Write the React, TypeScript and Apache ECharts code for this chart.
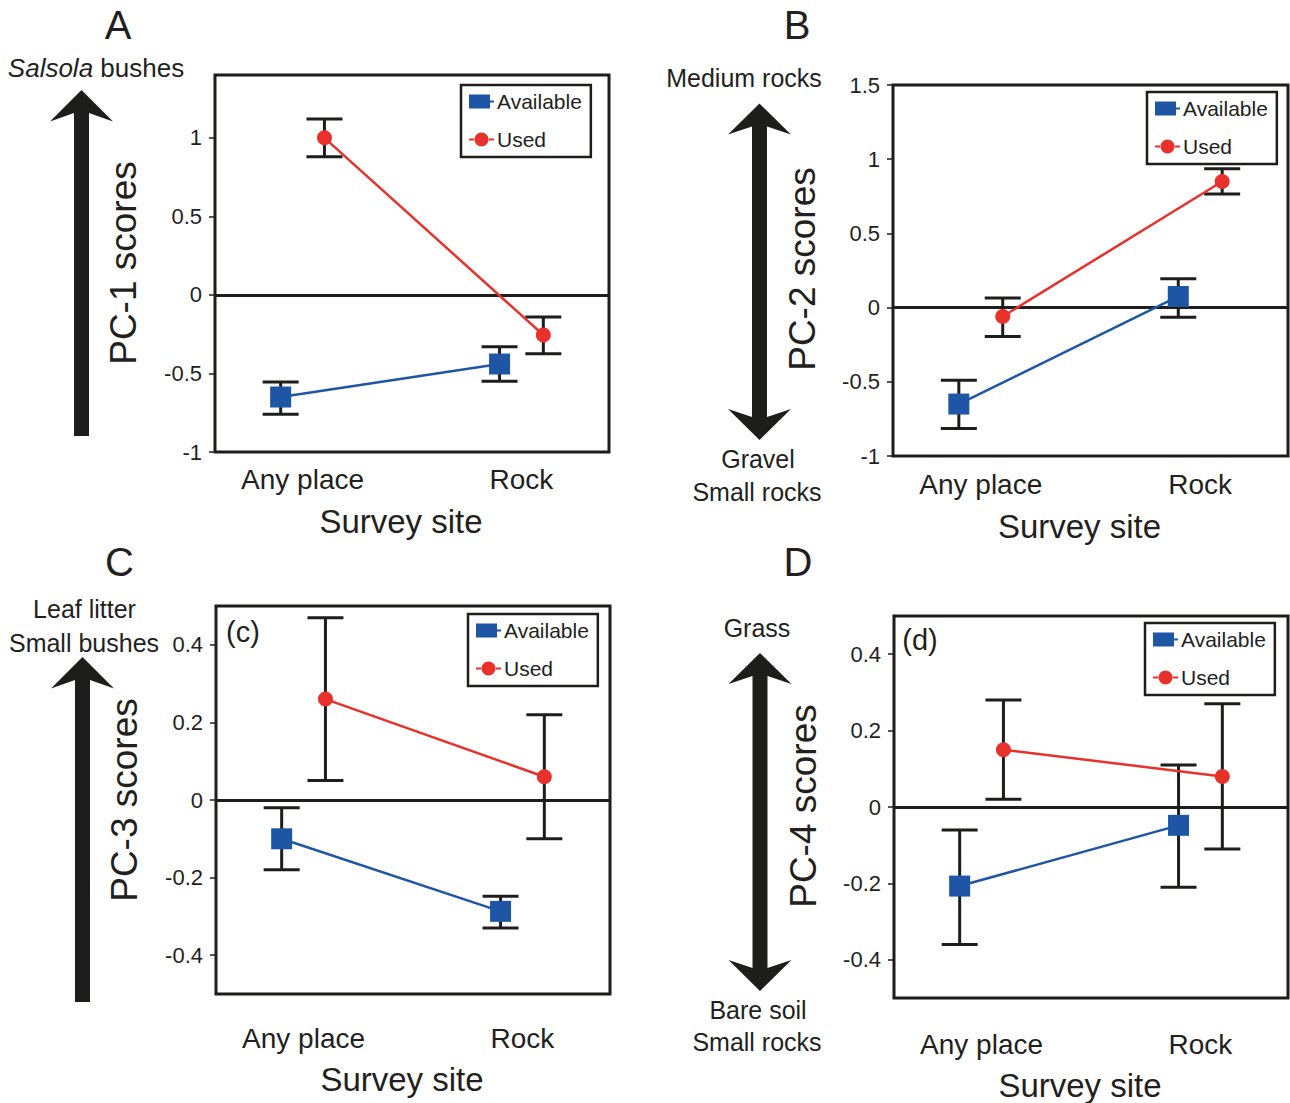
import React, { useEffect, useRef } from 'react';
import * as echarts from 'echarts';

const FONT = '"Liberation Sans", Arial, Helvetica, sans-serif';
const INK = '#1d1d1b';
const TEXT = '#231f20';
const BLUE = '#1f55a5';
const RED = '#e8312b';

const categories = ['Any place', 'Rock'];
const seriesNames = ['Available', 'Used'];

// Panel A – PC-1 scores
const pc1Available = [-0.65, -0.44];
const pc1AvailableLow = [-0.76, -0.55];
const pc1AvailableHigh = [-0.555, -0.33];
const pc1Used = [1.0, -0.255];
const pc1UsedLow = [0.88, -0.375];
const pc1UsedHigh = [1.12, -0.14];
const pc1Ticks = [-1, -0.5, 0, 0.5, 1];

// Panel B – PC-2 scores
const pc2Available = [-0.65, 0.075];
const pc2AvailableLow = [-0.815, -0.065];
const pc2AvailableHigh = [-0.49, 0.195];
const pc2Used = [-0.06, 0.85];
const pc2UsedLow = [-0.195, 0.765];
const pc2UsedHigh = [0.065, 0.935];
const pc2Ticks = [-1, -0.5, 0, 0.5, 1, 1.5];

// Panel C – PC-3 scores
const pc3Available = [-0.1, -0.287];
const pc3AvailableLow = [-0.18, -0.33];
const pc3AvailableHigh = [-0.02, -0.248];
const pc3Used = [0.26, 0.06];
const pc3UsedLow = [0.05, -0.1];
const pc3UsedHigh = [0.47, 0.22];
const pc3Ticks = [-0.4, -0.2, 0, 0.2, 0.4];

// Panel D – PC-4 scores
const pc4Available = [-0.207, -0.048];
const pc4AvailableLow = [-0.36, -0.21];
const pc4AvailableHigh = [-0.06, 0.11];
const pc4Used = [0.15, 0.08];
const pc4UsedLow = [0.02, -0.11];
const pc4UsedHigh = [0.28, 0.27];
const pc4Ticks = [-0.4, -0.2, 0, 0.2, 0.4];

const panels = [
  {
    avail: pc1Available, availLo: pc1AvailableLow, availHi: pc1AvailableHigh,
    used: pc1Used, usedLo: pc1UsedLow, usedHi: pc1UsedHigh, ticks: pc1Ticks,
    yMin: -1, yMax: 1.4,
    grid: { left: 215, top: 75, width: 394, height: 377 },
    legend: { left: 461, top: 85 },
    labelMargin: 13, nameGap: 53,
  },
  {
    avail: pc2Available, availLo: pc2AvailableLow, availHi: pc2AvailableHigh,
    used: pc2Used, usedLo: pc2UsedLow, usedHi: pc2UsedHigh, ticks: pc2Ticks,
    yMin: -1, yMax: 1.5,
    grid: { left: 893, top: 85, width: 395, height: 371 },
    legend: { left: 1147, top: 92 },
    labelMargin: 14, nameGap: 54,
  },
  {
    avail: pc3Available, availLo: pc3AvailableLow, availHi: pc3AvailableHigh,
    used: pc3Used, usedLo: pc3UsedLow, usedHi: pc3UsedHigh, ticks: pc3Ticks,
    yMin: -0.5, yMax: 0.5,
    grid: { left: 216, top: 606, width: 394, height: 388 },
    legend: { left: 468, top: 614 },
    labelMargin: 30, nameGap: 69,
  },
  {
    avail: pc4Available, availLo: pc4AvailableLow, availHi: pc4AvailableHigh,
    used: pc4Used, usedLo: pc4UsedLow, usedHi: pc4UsedHigh, ticks: pc4Ticks,
    yMin: -0.5, yMax: 0.5,
    grid: { left: 894, top: 616, width: 394, height: 382 },
    legend: { left: 1145, top: 623 },
    labelMargin: 32, nameGap: 71,
  },
];

const DODGE = 0.1;

const errorBarRender = (params: any, api: any) => {
  const x = api.value(0);
  const lo = api.value(1);
  const hi = api.value(2);
  const top = api.coord([x, hi]);
  const bot = api.coord([x, lo]);
  const hw = 18;
  const style = { stroke: INK, lineWidth: 3 };
  return {
    type: 'group',
    children: [
      { type: 'line', shape: { x1: top[0], y1: top[1], x2: bot[0], y2: bot[1] }, style },
      { type: 'line', shape: { x1: top[0] - hw, y1: top[1], x2: top[0] + hw, y2: top[1] }, style },
      { type: 'line', shape: { x1: bot[0] - hw, y1: bot[1], x2: bot[0] + hw, y2: bot[1] }, style },
    ],
  };
};

const fmt = (v: number) => String(Math.round(v * 10) / 10);

const availIcon = 'path://M0,0H21V14H0Z M21,6H25V8H21Z';
const usedIcon = 'path://M0,6H6V8H0Z M19,6H25V8H19Z M5.5,7a7,7 0 1,0 14,0a7,7 0 1,0 -14,0Z';

function arrowUp(cx: number, tip: number, bottom: number) {
  const hw = 7.5, head = 31.5, back = 23, barb = 31.5;
  return [
    [cx, tip], [cx + barb, tip + head], [cx + hw, tip + back], [cx + hw, bottom],
    [cx - hw, bottom], [cx - hw, tip + back], [cx - barb, tip + head],
  ];
}
function arrowBoth(cx: number, tip: number, bottomTip: number) {
  const hw = 7.5, head = 31, back = 23, barb = 31.5;
  return [
    [cx, tip], [cx + barb, tip + head], [cx + hw, tip + back],
    [cx + hw, bottomTip - back], [cx + barb, bottomTip - head], [cx, bottomTip],
    [cx - barb, bottomTip - head], [cx - hw, bottomTip - back],
    [cx - hw, tip + back], [cx - barb, tip + head],
  ];
}

function txt(text: string, x: number, y: number, size: number, extra: any = {}) {
  return {
    type: 'text', x, y, rotation: extra.rotation || 0,
    style: {
      text, fontSize: size, fontFamily: FONT, fill: TEXT,
      align: 'center', verticalAlign: 'middle', ...(extra.style || {}),
    },
  };
}

export default function App() {
  const ref = useRef<HTMLDivElement>(null);

  useEffect(() => {
    if (!ref.current) return;
    const chart = echarts.init(ref.current, undefined, { renderer: 'svg' });

    const grids: any[] = [];
    const xAxes: any[] = [];
    const yAxes: any[] = [];
    const legends: any[] = [];
    const series: any[] = [];

    panels.forEach((p, i) => {
      grids.push({
        ...p.grid, show: true, borderColor: INK, borderWidth: 3,
        backgroundColor: 'transparent', containLabel: false,
      });
      xAxes.push({
        gridIndex: i, type: 'value', min: -0.4, max: 1.4,
        name: 'Survey site', nameLocation: 'middle', nameGap: p.nameGap,
        nameTextStyle: { fontSize: 33, fontFamily: FONT, color: TEXT, padding: [0, 22, 0, 0] },
        axisLine: { show: false, onZero: false }, axisTick: { show: false }, splitLine: { show: false },
        axisLabel: {
          customValues: [0, 1], margin: p.labelMargin,
          formatter: (v: number) => categories[Math.round(v)] ?? '',
          fontSize: 28, fontFamily: FONT, color: TEXT,
        },
      });
      yAxes.push({
        gridIndex: i, type: 'value', min: p.yMin, max: p.yMax,
        axisLine: { show: false, onZero: false }, splitLine: { show: false },
        axisTick: { show: true, customValues: p.ticks, length: 6, lineStyle: { color: INK, width: 1.5 } },
        axisLabel: {
          customValues: p.ticks, margin: 13, formatter: fmt,
          fontSize: 22, fontFamily: FONT, color: TEXT,
        },
      });
      legends.push({
        orient: 'vertical', left: p.legend.left, top: p.legend.top,
        padding: [6, 9, 7, 8], itemGap: 17, itemWidth: 25, itemHeight: 14,
        borderColor: INK, borderWidth: 2.5, backgroundColor: '#fff',
        selectedMode: false,
        textStyle: { fontSize: 21, fontFamily: FONT, color: TEXT, padding: [0, 0, 0, -2] },
        data: [
          { name: seriesNames[0], icon: availIcon },
          { name: seriesNames[1], icon: usedIcon },
        ],
      });
      const availPts = p.avail.map((v, k) => [k - DODGE, v]);
      const usedPts = p.used.map((v, k) => [k + DODGE, v]);
      series.push({
        type: 'custom', name: 'err-a-' + i, xAxisIndex: i, yAxisIndex: i, z: 2,
        renderItem: errorBarRender, encode: { x: 0, y: [1, 2] },
        data: p.avail.map((_, k) => [k - DODGE, p.availLo[k], p.availHi[k]]),
        silent: true,
      });
      series.push({
        type: 'custom', name: 'err-u-' + i, xAxisIndex: i, yAxisIndex: i, z: 2,
        renderItem: errorBarRender, encode: { x: 0, y: [1, 2] },
        data: p.used.map((_, k) => [k + DODGE, p.usedLo[k], p.usedHi[k]]),
        silent: true,
      });
      series.push({
        type: 'line', name: seriesNames[0], xAxisIndex: i, yAxisIndex: i, z: 3,
        data: availPts, symbol: 'rect', symbolSize: 21,
        itemStyle: { color: BLUE }, lineStyle: { color: BLUE, width: 2.5 },
        markLine: {
          silent: true, symbol: ['none', 'none'], label: { show: false },
          lineStyle: { color: INK, width: 3, type: 'solid' },
          data: [{ yAxis: 0 }], z: 1,
        },
      });
      series.push({
        type: 'line', name: seriesNames[1], xAxisIndex: i, yAxisIndex: i, z: 3,
        data: usedPts, symbol: 'circle', symbolSize: 15,
        itemStyle: { color: RED }, lineStyle: { color: RED, width: 2.5 },
      });
    });

    const arrowStyle = { fill: INK };
    const graphic: any[] = [
      txt('A', 118, 25, 40),
      txt('B', 797, 25, 40),
      txt('C', 119.5, 562, 40),
      txt('D', 798, 562, 40),
      {
        type: 'text', x: 96, y: 68,
        style: {
          text: '{i|Salsola} bushes', fontSize: 26, fontFamily: FONT, fill: TEXT,
          align: 'center', verticalAlign: 'middle',
          rich: { i: { fontStyle: 'italic', fontSize: 26, fontFamily: FONT, fill: TEXT } },
        },
      },
      txt('Medium rocks', 744, 78, 25),
      txt('Gravel', 758, 459, 25),
      txt('Small rocks', 757, 492, 25),
      txt('Leaf litter', 84.5, 609, 25),
      txt('Small bushes', 84, 643, 25),
      txt('Grass', 757, 628, 25),
      txt('Bare soil', 758, 1010, 25),
      txt('Small rocks', 757, 1042, 25),
      txt('PC-1 scores', 123, 263, 37, { rotation: Math.PI / 2 }),
      txt('PC-2 scores', 802, 269, 37, { rotation: Math.PI / 2 }),
      txt('PC-3 scores', 124, 800, 37, { rotation: Math.PI / 2 }),
      txt('PC-4 scores', 803, 806, 37, { rotation: Math.PI / 2 }),
      txt('(c)', 243, 632, 29),
      txt('(d)', 920, 640, 29),
      { type: 'polygon', shape: { points: arrowUp(81.5, 90, 436) }, style: arrowStyle },
      { type: 'polygon', shape: { points: arrowBoth(759.5, 103.5, 440) }, style: arrowStyle },
      { type: 'polygon', shape: { points: arrowUp(82.5, 657, 1002) }, style: arrowStyle },
      { type: 'polygon', shape: { points: arrowBoth(760, 653, 991) }, style: arrowStyle },
    ];

    chart.setOption({
      animation: false,
      backgroundColor: '#ffffff',
      textStyle: { fontFamily: FONT },
      grid: grids,
      xAxis: xAxes,
      yAxis: yAxes,
      legend: legends,
      series,
      graphic,
    });

    return () => chart.dispose();
  }, []);

  return (
    <div
      ref={ref}
      style={{ position: 'absolute', left: 0, top: 0, width: 1290, height: 1103, background: '#fff' }}
    />
  );
}
